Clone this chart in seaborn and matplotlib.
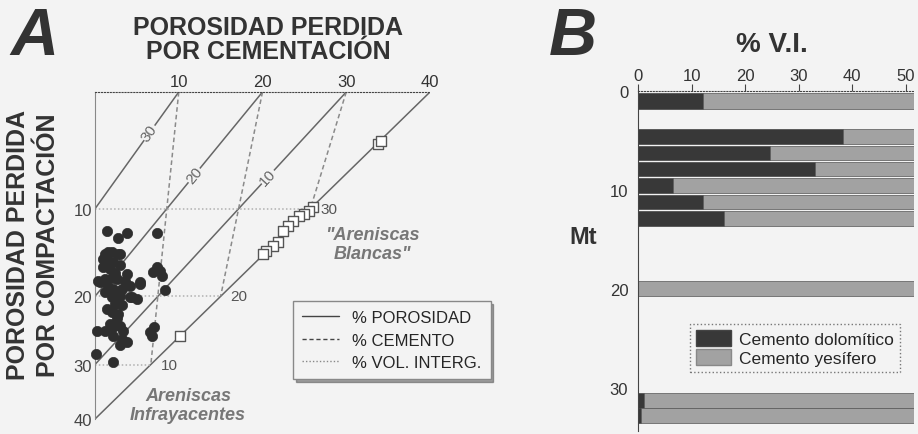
import numpy as np
import pandas as pd
import matplotlib
matplotlib.use('Agg')
import matplotlib.pyplot as plt
from matplotlib.lines import Line2D
from matplotlib.patches import Patch
import seaborn as sns

# ---- panel A: porosity lost by cementation (x) vs compaction (y) ----
infra_cem = [1.4, 2.8, 3.8, 7.4, 1.2, 2.0, 2.8, 1.6, 3.0, 1.4, 2.2, 1.0, 1.0, 1.8, 3.0, 2.4,
             6.9, 7.8, 7.4, 3.8, 1.2, 0.4, 0.6, 2.0, 2.6, 3.6, 5.4, 8.0, 1.6, 1.2, 2.2, 3.0,
             4.2, 5.4, 3.2, 8.3, 2.0, 3.0, 4.2, 5.0, 4.4, 2.4, 1.4, 3.2, 2.0, 2.8, 2.6, 1.8,
             2.2, 3.0, 7.0, 6.6, 6.8, 0.2, 1.2, 3.4, 2.2, 3.2, 3.8, 3.0, 0.1, 2.1]
infra_comp = [17.0, 17.9, 17.2, 17.2, 19.8, 19.6, 19.8, 19.6, 19.8, 20.6, 20.8, 20.4, 21.4, 21.7, 21.2, 22.1,
              22.0, 21.9, 21.4, 22.3, 22.9, 23.1, 23.3, 22.7, 22.9, 23.1, 23.3, 22.5, 23.9, 24.5, 24.1, 24.3,
              23.7, 23.5, 24.1, 24.2, 25.1, 24.9, 25.1, 25.3, 25.1, 25.9, 26.5, 26.1, 26.9, 27.2, 27.6, 28.4,
              28.8, 28.6, 28.8, 29.4, 29.8, 29.2, 29.2, 29.2, 29.8, 30.2, 30.6, 31.0, 32.1, 33.0]
blancas_cem = [33.8, 34.2, 26.0, 25.5, 24.9, 24.3, 23.7, 23.1, 22.5, 21.8, 21.2, 20.4, 20.0, 10.2]
blancas_comp = [6.4, 6.0, 14.1, 14.6, 14.9, 15.2, 15.8, 16.4, 17.0, 18.3, 18.8, 19.4, 19.8, 29.8]

op = 40                        # original porosity
poro_levels = [30, 20, 10, 0]  # % porosidad lines
cem_levels = [10, 20, 30]      # % cemento lines
igv_levels = [30, 20, 10]      # % vol. intergranular lines
ytick_igv = [30, 20, 10, 0]
poro_label_at = [5.0, 10.2, 10.4]   # where the porosity labels sit (compaction value)

# ---- panel B: cements per depth ----
depth_top = [0.2, 3.85, 5.5, 7.2, 8.8, 10.5, 12.1, 19.2, 30.5, 32.0]
depth_bot = [1.8, 5.3, 7.0, 8.6, 10.3, 11.95, 13.6, 20.7, 32.0, 33.5]
dolomitico = [12.1, 38.3, 24.7, 33.1, 6.5, 12.1, 16.0, 0.0, 1.2, 0.6]
yesifero = [48.0, 22.0, 36.0, 27.0, 54.0, 48.0, 44.0, 60.0, 59.0, 59.0]  # cut off by the axis


def copl(igv):
    return op - (100 - op) * igv / (100 - igv)


# build the theoretical lines as long-form table
rows = []
for p in poro_levels:
    end = 100 * (op - p) / (100 - p)
    for c in np.linspace(0, end, 2):
        rows.append(('poro', p, (op - p) - c * (1 - p / 100), c))
for cm in cem_levels:
    for c in np.linspace(0, copl(cm), 2):
        rows.append(('cem', cm, cm * (1 - c / 100), c))
for ig in igv_levels:
    c = copl(ig)
    for x in np.linspace(0, op - c, 2):
        rows.append(('igv', ig, x, c))
lines = pd.DataFrame(rows, columns=['kind', 'level', 'x', 'y'])
lines['unit'] = lines['kind'] + lines['level'].astype(str)

sns.set_style('white')
plt.rcParams['font.family'] = ['Liberation Sans', 'DejaVu Sans']
bg = '#f3f3f3'

fig = plt.figure(figsize=(9.18, 4.35), dpi=100, facecolor=bg)
axA = fig.add_axes([95 / 918, 1 - 420 / 435, 335 / 918, 327 / 435])
axB = fig.add_axes([638 / 918, 1 - 432 / 435, 276 / 918, 340 / 435])
for ax in (axA, axB):
    ax.set_facecolor(bg)

# ---------------- panel A ----------------
sns.lineplot(data=lines, x='x', y='y', units='unit', estimator=None, sort=False,
             hue='kind', style='kind',
             palette={'poro': '#666666', 'cem': '#8a8a8a', 'igv': '#b0b0b0'},
             dashes={'poro': '', 'cem': (3, 2), 'igv': (1, 1.5)},
             linewidth=1.1, legend=False, ax=axA)

sns.scatterplot(x=infra_cem, y=infra_comp, color='#2e2e2e', s=55, edgecolor='#2e2e2e',
                linewidth=0.5, ax=axA, clip_on=False, zorder=4)
sns.scatterplot(x=blancas_cem, y=blancas_comp, marker='s', color='white', s=50,
                edgecolor='#555555', linewidth=1.0, ax=axA, zorder=4)

for p, c in zip(poro_levels[:3], poro_label_at):
    x = (op - p) - c * (1 - p / 100)
    ang = np.degrees(np.arctan2(-1, 1 - p / 100))
    axA.text(x, c, str(p), rotation=ang, transform_rotates_text=True, rotation_mode='anchor',
             ha='center', va='center', fontsize=11, color='#666666', zorder=3,
             bbox=dict(facecolor=bg, edgecolor='none', pad=0.3))
for ig in igv_levels:
    c = copl(ig)
    axA.text(op - c + 1.2, c, str(ig), ha='left', va='center', fontsize=11, color='#555555')

axA.text(33.1, 18.6, '"Areniscas\nBlancas"', ha='center', va='center', fontsize=13,
         fontweight='bold', fontstyle='italic', color='#777777', linespacing=1.1)
axA.text(11.1, 38.3, 'Areniscas\nInfrayacentes', ha='center', va='center', fontsize=13,
         fontweight='bold', fontstyle='italic', color='#777777', linespacing=1.1)

axA.set_xlim(0, 40)
axA.set_ylim(40, 0)
axA.xaxis.tick_top()
axA.set_xticks([10, 20, 30, 40])
axA.set_xticklabels(['10', '20', '30', '40'], fontsize=12, color='#333333')
axA.set_yticks([copl(g) for g in ytick_igv])
axA.set_yticklabels([str(op - g) for g in ytick_igv], fontsize=12, color='#444444')
axA.tick_params(length=0, pad=2)
axA.set_xlabel('')
axA.set_ylabel('')
for s in ('right', 'bottom'):
    axA.spines[s].set_visible(False)
axA.spines['left'].set_color('#888888')
axA.spines['top'].set_color('#444444')
axA.spines['top'].set_linestyle(':')

legA = axA.legend(handles=[Line2D([], [], color='#444444', lw=1, ls='-'),
                           Line2D([], [], color='#444444', lw=1, ls=(0, (3, 2))),
                           Line2D([], [], color='#888888', lw=1, ls=(0, (1, 1.5)))],
                  labels=['% POROSIDAD', '% CEMENTO', '% VOL. INTERG.'],
                  loc='upper left', bbox_to_anchor=(0.591, 0.361), borderaxespad=0,
                  fontsize=12, frameon=True, fancybox=False, shadow=True,
                  edgecolor='#888888', facecolor=bg, framealpha=1, handlelength=2.2,
                  labelspacing=0.45, borderpad=0.55)
legA.get_frame().set_linewidth(1.0)

# ---------------- panel B ----------------
centers = [(a + b) / 2 for a, b in zip(depth_top, depth_bot)]
thick = [b - a for a, b in zip(depth_top, depth_bot)]
axB.barh(centers, dolomitico, height=thick, color='#383838', edgecolor='#444444', lw=0.5)
axB.barh(centers, yesifero, left=dolomitico, height=thick, color='#a2a2a2',
         edgecolor='#555555', lw=0.5)

axB.set_xlim(0, 51.5)
axB.set_ylim(34.3, 0)
axB.xaxis.tick_top()
axB.set_xticks([0, 10, 20, 30, 40, 50])
axB.set_xticklabels(['0', '10', '20', '30', '40', '50'], fontsize=12, color='#333333')
axB.set_yticks([0, 10, 20, 30])
axB.set_yticklabels(['0', '10', '20', '30'], fontsize=12, color='#333333')
axB.set_yticks([5, 15, 25], minor=True)
axB.tick_params(axis='x', direction='out', length=5, width=0.8, color='#444444', pad=1)
axB.tick_params(axis='y', which='both', direction='out', length=5, width=0.8, color='#444444', pad=2)
for s in ('right', 'bottom'):
    axB.spines[s].set_visible(False)
axB.spines['left'].set_color('#444444')
axB.spines['top'].set_color('#444444')
axB.spines['top'].set_linestyle(':')

legB = axB.legend(handles=[Patch(facecolor='#383838', edgecolor='#444444'),
                           Patch(facecolor='#a2a2a2', edgecolor='#888888')],
                  labels=['Cemento dolomítico', 'Cemento yesífero'],
                  loc='upper left', bbox_to_anchor=(0.188, 0.315), borderaxespad=0,
                  fontsize=12.5, frameon=True, fancybox=False, edgecolor='#777777',
                  facecolor=bg, framealpha=1, handlelength=2.0, handleheight=1.0,
                  labelspacing=0.15, borderpad=0.35, handletextpad=0.5)
legB.get_frame().set_linestyle(':')

# ---------------- figure texts ----------------
fig.text(0.037, 0.913, 'A', fontsize=48, fontweight='bold', fontstyle='italic',
         color='#333333', ha='center', va='center')
fig.text(0.292, 0.907, 'POROSIDAD PERDIDA\nPOR CEMENTACIÓN', fontsize=18, fontweight='bold',
         color='#333333', ha='center', va='center', linespacing=1.0)
fig.text(0.036, 0.437, 'POROSIDAD PERDIDA\nPOR COMPACTACIÓN', fontsize=18, fontweight='bold',
         color='#333333', ha='center', va='center', rotation=90, linespacing=1.3)
fig.text(0.624, 0.913, 'B', fontsize=48, fontweight='bold', fontstyle='italic',
         color='#333333', ha='center', va='center')
fig.text(0.841, 0.897, '% V.I.', fontsize=20, fontweight='bold', color='#333333',
         ha='center', va='center')
fig.text(0.635, 0.455, 'Mt', fontsize=17, fontweight='bold', color='#333333',
         ha='center', va='center')

fig.savefig('out.png', dpi=100, facecolor=bg)
